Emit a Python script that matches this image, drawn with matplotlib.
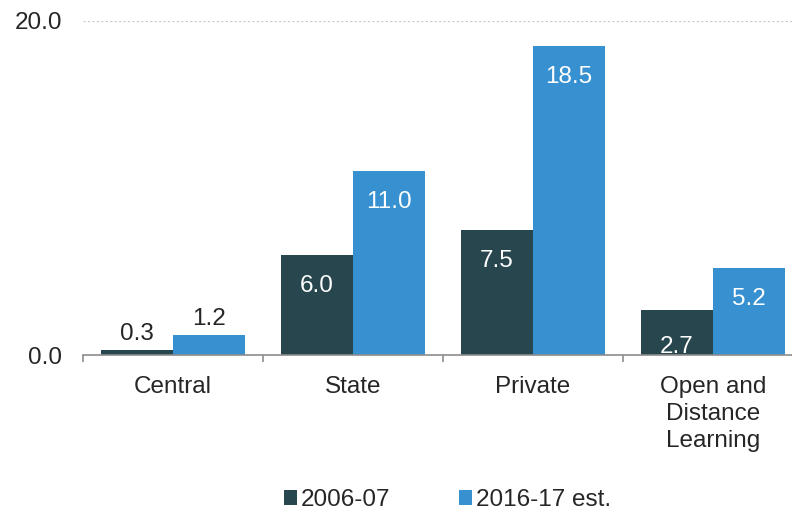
import numpy as np
import matplotlib.pyplot as plt

plt.rcParams['font.family'] = ['Liberation Sans', 'DejaVu Sans']

categories = ["Central", "State", "Private", "Open and\nDistance\nLearning"]
v2006 = [0.3, 6.0, 7.5, 2.7]
v2016 = [1.2, 11.0, 18.5, 5.2]
series_names = ["2006-07", "2016-17 est."]

dark = "#27464e"
blue = "#3790d0"
txt = "#262626"
fs = 17.5

fig = plt.figure(figsize=(7.92, 5.12), dpi=100)
ax = fig.add_axes([0.105, 0.3066, 0.909, 0.6524])

x = np.arange(len(categories))
w = 0.4
b1 = ax.bar(x - w / 2, v2006, w, color=dark, label=series_names[0])
b2 = ax.bar(x + w / 2, v2016, w, color=blue, label=series_names[1])

# value labels
for bars, vals in [(b1, v2006), (b2, v2016)]:
    for r, v in zip(bars, vals):
        cx = r.get_x() + r.get_width() / 2
        if v < 2:
            ax.text(cx, v + 0.3, f"{v:.1f}", ha="center", va="bottom",
                    fontsize=fs, color=txt)
        elif v < 3:
            ax.text(cx, -0.15, f"{v:.1f}", ha="center", va="bottom",
                    fontsize=fs, color="white")
        else:
            ax.text(cx, v - 1.2, f"{v:.1f}", ha="center", va="top",
                    fontsize=fs, color="white")

ax.set_xlim(-0.5, len(categories) - 0.5)
ax.set_ylim(0, 20)
ax.set_yticks([0, 20])
ax.set_yticklabels(["0.0", "20.0"], fontsize=fs, color=txt)
ax.tick_params(axis="y", length=0, pad=15)

ax.set_xticks(x)
ax.set_xticklabels(categories, fontsize=fs, color=txt, linespacing=1.3)
ax.tick_params(axis="x", which="major", length=0, pad=15)
ax.set_xticks(np.arange(len(categories)) - 0.5, minor=True)
ax.tick_params(axis="x", which="minor", length=5, color="#8c8c8c", width=1.2)

ax.axhline(20, color="#c8c8c8", lw=0.8, ls=(0, (2, 2)), zorder=0)

for s in ["top", "right", "left"]:
    ax.spines[s].set_visible(False)
ax.spines["bottom"].set_color("#8c8c8c")
ax.spines["bottom"].set_linewidth(1.2)

fig.legend(handles=[b1, b2], labels=series_names, loc="lower center",
           bbox_to_anchor=(0.565, -0.041), ncol=2, frameon=False, fontsize=fs,
           handlelength=0.55, handleheight=0.55, handletextpad=0.15,
           columnspacing=2.8, labelcolor=txt)

fig.savefig("out.png", dpi=100)
